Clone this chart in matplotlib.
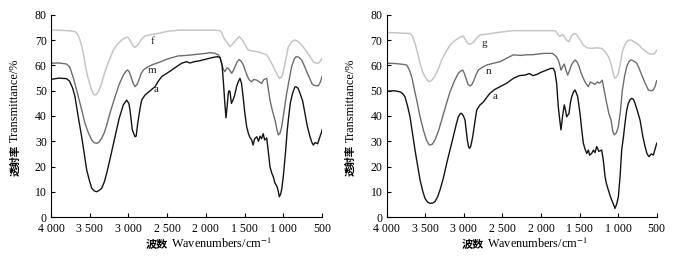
import matplotlib
matplotlib.use('Agg')
import matplotlib.pyplot as plt

# ── Fonts ──────────────────────────────────────────────────────────────────
plt.rcParams['font.family'] = ['Liberation Serif', 'Noto Sans CJK SC', 'DejaVu Sans']
plt.rcParams['mathtext.fontset'] = 'stix'

# ── Data: left panel (curves f, m, a) ──────────────────────────────────────
left_a_wn = [4000, 3900, 3800, 3760, 3720, 3690, 3650, 3604, 3570, 3539, 3500, 3474, 3440,
             3410, 3380, 3345, 3310, 3281, 3230, 3173, 3120, 3066, 3023, 2995, 2980, 2950,
             2915, 2900, 2880, 2850, 2829, 2786, 2720, 2657, 2610, 2570, 2500, 2441, 2380,
             2312, 2250, 2205, 2150, 2076, 2000, 1908, 1850, 1817, 1790, 1770, 1755, 1740,
             1725, 1710, 1700, 1688, 1670, 1650, 1630, 1600, 1575, 1559, 1540, 1520, 1500,
             1473, 1450, 1430, 1408, 1390, 1370, 1343, 1320, 1300, 1280, 1260, 1240, 1214,
             1190, 1172, 1150, 1130, 1107, 1080, 1064, 1051, 1035, 1020, 1000, 970, 950, 935,
             910, 880, 850, 836, 810, 784, 750, 720, 690, 655, 630, 612, 590, 556, 530, 504, 500]
left_a_t = [54.5, 55, 54.8, 53.8, 51, 47.6, 40, 31.8, 25, 18.6, 14, 11.4, 10.3,
            10, 10.5, 11.4, 14, 17.3, 24, 31.8, 39, 44.4, 46.3, 45, 42.4, 34.5,
            31.8, 32, 37.1, 43, 46.3, 48.3, 50, 51.6, 54, 55.6, 57, 58.2, 59.5,
            60.9, 61.5, 61, 61.5, 61.9, 62.5, 63.2, 63.5, 63.2, 60, 52, 45, 39.3,
            44, 49, 50, 49.6, 45, 46.3, 48, 52, 54, 54.9, 53, 48, 42,
            35.8, 33, 31.5, 30.5, 28.5, 31, 31.8, 30, 32, 31, 33, 30.5, 31.3,
            25, 19.9, 17.5, 16, 13.4, 12, 10, 8.0, 9, 11, 16, 26, 34, 38.4,
            45, 49, 51.5, 51.6, 51, 49, 46, 41, 36, 31.8, 29.5, 28.5, 29.5, 29, 31.5, 33.8, 34.5]

left_m_wn = [4000, 3900, 3800, 3760, 3716, 3680, 3647, 3600, 3561, 3520, 3474, 3440, 3410,
             3380, 3345, 3310, 3281, 3230, 3173, 3120, 3066, 3030, 3010, 2990, 2967, 2940,
             2915, 2890, 2872, 2840, 2808, 2760, 2700, 2600, 2528, 2450, 2356, 2250, 2183,
             2100, 2000, 1947, 1880, 1839, 1815, 1796, 1775, 1753, 1730, 1710, 1690, 1666,
             1645, 1624, 1595, 1568, 1540, 1516, 1485, 1452, 1430, 1408, 1380, 1343, 1310,
             1279, 1250, 1214, 1195, 1172, 1140, 1107, 1085, 1064, 1045, 1020, 990, 956, 920,
             892, 860, 836, 800, 763, 730, 698, 660, 630, 612, 580, 547, 520, 500]
left_m_t = [60.9, 61, 60.6, 59.5, 55.6, 51.5, 47.6, 42, 37.1, 33.5, 30.5, 29.4, 29.2,
            29.6, 31.2, 33.5, 36.4, 42, 47.6, 52.5, 56.2, 57.8, 58.2, 57.5, 55.6, 53,
            51.6, 52.5, 53.6, 56.5, 58.2, 59.3, 60.2, 61.3, 62.2, 63, 63.8, 64, 64.2,
            64.5, 64.8, 65.1, 64.8, 64.2, 63, 60.9, 58.5, 57.6, 59, 58.9, 58, 56.9,
            58, 59.5, 61.5, 62.4, 61.5, 60.2, 57.5, 54.9, 54, 53.6, 54.5, 54.2, 53.5,
            52.9, 54.5, 54.9, 51, 46.3, 42, 38.4, 35, 32.5, 33, 35.8, 42, 49, 55,
            59.5, 62.5, 63.5, 63.3, 62.2, 60, 57.6, 55, 52.8, 52.3, 52, 52, 53.5, 55.6]

left_f_wn = [4000, 3900, 3800, 3720, 3690, 3660, 3625, 3590, 3561, 3530, 3496, 3460, 3441,
             3415, 3389, 3350, 3303, 3250, 3195, 3140, 3087, 3040, 3010, 2985, 2958, 2935,
             2915, 2890, 2864, 2830, 2786, 2700, 2614, 2500, 2356, 2200, 2000, 1900, 1817,
             1795, 1775, 1750, 1731, 1710, 1688, 1665, 1646, 1600, 1568, 1540, 1516, 1480,
             1452, 1400, 1343, 1280, 1214, 1170, 1128, 1090, 1051, 1020, 999, 970, 935, 890,
             849, 810, 784, 740, 698, 650, 612, 580, 547, 520, 500]
left_f_t = [74, 74, 73.8, 73.6, 73.4, 72.5, 70.1, 66, 60.9, 56, 52.3, 49, 48.3,
            48.6, 49.6, 52.5, 57.6, 62, 66.1, 68.5, 70.1, 71, 71.2, 70.3, 68.8, 67.5,
            67.2, 67.8, 68.8, 70.5, 71.7, 72.3, 72.7, 73.5, 74, 74, 74, 74, 73.8,
            73, 71.4, 70, 69.4, 68.5, 67.4, 68, 68.8, 70.5, 71.4, 70.5, 69.4, 67.5,
            66.1, 65.8, 65.5, 65, 64.2, 62, 59.5, 57, 54.9, 55.5, 57.6, 62, 67.4, 69.5,
            70.1, 69.5, 68.8, 67.2, 65.5, 63.2, 61.5, 61, 60.9, 61.8, 62.8]

# ── Data: right panel (curves g, n, a) ─────────────────────────────────────
right_a_wn = [4000, 3900, 3828, 3790, 3763, 3730, 3698, 3665, 3633, 3600, 3568, 3535, 3504,
              3470, 3439, 3405, 3374, 3340, 3309, 3265, 3222, 3180, 3137, 3100, 3072, 3045,
              3028, 3005, 2985, 2970, 2955, 2940, 2929, 2910, 2885, 2860, 2833, 2790, 2748,
              2700, 2661, 2600, 2531, 2444, 2359, 2280, 2207, 2150, 2103, 2050, 2000, 1926,
              1880, 1840, 1820, 1797, 1776, 1755, 1741, 1720, 1698, 1680, 1667, 1637, 1620,
              1602, 1580, 1559, 1540, 1524, 1494, 1470, 1451, 1430, 1407, 1385, 1370, 1343,
              1320, 1300, 1278, 1250, 1213, 1190, 1170, 1150, 1127, 1105, 1083, 1060, 1041,
              1020, 997, 975, 954, 930, 911, 890, 868, 845, 824, 800, 781, 750, 716, 680, 651,
              625, 600, 570, 544, 520, 500]
right_a_t = [49.8, 50, 49.6, 48.8, 47.6, 44, 39.7, 33, 26.5, 20.5, 14.7, 10.5, 7.4,
             5.9, 5.4, 5.5, 6.1, 8, 10.7, 15.5, 21.3, 26.5, 31.8, 36.5, 39.7, 41,
             41, 40, 38.4, 34.5, 30.5, 28, 27.2, 28, 31.8, 37, 42.4, 44.4, 45.5,
             47.5, 49, 50.5, 51.6, 53, 54.9, 56, 56.2, 56.8, 56, 56.5, 57.3, 58.2,
             58.8, 58.9, 57.5, 52.9, 43.7, 38, 34.5, 40, 44.4, 42, 39.7, 41, 45,
             47.6, 49.5, 50.3, 49, 47.6, 41, 34, 29.2, 27, 25.2, 26.5, 24.5, 25.2,
             26.5, 25.5, 27.9, 26, 26.5, 22, 16, 13, 10.7, 8.5, 6.7, 5, 3.4,
             5, 8.0, 16, 26.5, 32, 37.1, 42, 45, 46.5, 47, 46.5, 45, 42, 38.4, 32, 27.9,
             25, 23.9, 25, 24.5, 27, 29.2]

right_n_wn = [4000, 3900, 3800, 3741, 3710, 3676, 3645, 3611, 3570, 3525, 3485, 3448, 3410,
              3374, 3330, 3287, 3230, 3179, 3120, 3072, 3040, 3015, 2995, 2972, 2945, 2920,
              2895, 2868, 2840, 2812, 2760, 2704, 2600, 2531, 2450, 2359, 2250, 2207, 2100,
              2000, 1948, 1850, 1800, 1776, 1755, 1741, 1720, 1698, 1675, 1654, 1630, 1610,
              1580, 1559, 1535, 1510, 1480, 1451, 1420, 1387, 1360, 1330, 1300, 1270, 1240,
              1205, 1180, 1148, 1120, 1092, 1070, 1050, 1020, 997, 970, 945, 915, 889, 860,
              833, 800, 759, 730, 694, 650, 608, 575, 544, 520, 500]
right_n_t = [60.9, 60.8, 60.5, 60.2, 58.5, 55.6, 51, 46.3, 40, 34.5, 30.5, 28.5, 28.8,
             30.5, 34, 38.4, 44.5, 49.6, 54, 56.9, 57.8, 58.2, 57, 54.9, 52.5, 51.9,
             52.5, 54.2, 56.5, 58.2, 59.3, 60.2, 61, 61.5, 62.8, 64.2, 64, 64.2, 64.3,
             64.7, 64.8, 64.8, 63.5, 62.2, 60, 58.2, 59.5, 60.6, 58, 56.2, 58, 59.8,
             61.5, 62.2, 61.5, 60, 57, 54.9, 53, 51.6, 53.5, 53, 52.5, 53.5, 53,
             54.2, 50, 45, 41, 38.4, 34, 32.5, 33.5, 35.8, 42, 50.3, 56, 59.5, 61.5,
             62.2, 61.8, 60.9, 59, 56.2, 53, 50.3, 50, 50.3, 51.8, 54]

right_g_wn = [4000, 3900, 3800, 3698, 3665, 3633, 3600, 3568, 3535, 3504, 3475, 3448, 3420,
              3387, 3340, 3287, 3230, 3179, 3120, 3072, 3030, 3007, 2985, 2963, 2940, 2920,
              2895, 2868, 2830, 2790, 2680, 2574, 2450, 2359, 2200, 2000, 1818, 1795, 1776,
              1755, 1735, 1715, 1690, 1665, 1637, 1610, 1590, 1559, 1535, 1510, 1480, 1451,
              1400, 1343, 1280, 1213, 1170, 1127, 1100, 1083, 1060, 1041, 1020, 997, 970, 945,
              915, 889, 860, 833, 800, 759, 720, 694, 650, 608, 575, 544, 520, 500]
right_g_t = [73, 73, 72.8, 72.7, 71.5, 68.8, 65, 60.9, 57.5, 55.6, 54.2, 53.6, 54,
             55.2, 58, 62.2, 65.5, 68.1, 69.8, 70.8, 71.5, 71.7, 70.5, 69.4, 68.6, 68.5,
             68.8, 69.4, 71, 72.1, 72.5, 73, 73.5, 73.8, 73.8, 73.8, 73.8, 73, 72.1,
             71.5, 72, 72.2, 71, 70, 69.4, 71.5, 72.2, 72.7, 72, 71, 69.5, 68.1,
             67, 66.8, 67, 66.8, 65.5, 63.5, 61.5, 59.5, 56.5, 54.9, 55.5, 56.9, 61, 65.5,
             68, 69.4, 70, 70.1, 69.5, 68.8, 67.8, 66.8, 65.8, 64.8, 64.5, 64.5, 65, 66.1]

# curve labels: (text, wavenumber, transmittance)
left_labels = [('f', 2690, 69.5), ('m', 2700, 58.0), ('a', 2640, 50.5)]
right_labels = [('g', 2735, 68.8), ('n', 2680, 57.8), ('a', 2595, 47.8)]

x_ticks = [4000, 3500, 3000, 2500, 2000, 1500, 1000, 500]
x_ticklabels = ['4 000', '3 500', '3 000', '2 500', '2 000', '1 500', '1 000', '500']
y_ticks = [0, 10, 20, 30, 40, 50, 60, 70, 80]

DARK, MID, LIGHT = '#141414', '#6e6e6e', '#c6c6c6'
W, H = 681, 259


# ── Plot ───────────────────────────────────────────────────────────────────
def draw_panel(ax, curves, labels):
    for (wn, t), color, lw in zip(curves, [LIGHT, MID, DARK], [1.1, 1.0, 1.0]):
        ax.plot(wn, t, color=color, linewidth=lw)
    for text, x, y in labels:
        ax.text(x, y, text, fontsize=8, ha='center', va='center', color='#222222')

    ax.set_xlim(4000, 500)
    ax.set_ylim(0, 80)
    ax.set_xticks(x_ticks)
    ax.set_xticklabels(x_ticklabels)
    ax.set_yticks(y_ticks)
    ax.tick_params(direction='in', length=3, width=0.8, labelsize=8.5)
    ax.tick_params(axis='x', pad=4.5)
    ax.tick_params(axis='y', pad=3)
    for side in ['top', 'right']:
        ax.spines[side].set_visible(False)
    for side in ['left', 'bottom']:
        ax.spines[side].set_linewidth(0.8)


def draw_labels(x_px, xlab_px):
    # CJK part and Latin part drawn as separate texts so each gets its own font
    cjk = fig.text(x_px / W, (H - 176) / H, '透射率', rotation=90, ha='center', va='bottom',
                   fontsize=7.5, family='Noto Sans CJK SC', fontweight='bold')
    bb = cjk.get_window_extent(renderer=fig.canvas.get_renderer())
    fig.text(x_px / W, (bb.y1 + 3) / H, 'Transmittance/%', rotation=90, ha='center',
             va='bottom', fontsize=8.8, family='Liberation Serif')
    fig.text(xlab_px / W, (H - 244) / H, '波数', ha='right', va='center',
             fontsize=8, family='Noto Sans CJK SC', fontweight='bold')
    fig.text((xlab_px + 3) / W, (H - 244) / H, 'Wavenumbers/cm$^{-1}$', ha='left',
             va='center', fontsize=8.8, family='Liberation Serif')


fig = plt.figure(figsize=(W / 100, H / 100), dpi=100)
ax_l = fig.add_axes([51 / W, 42 / H, 271 / W, 202 / H])
ax_r = fig.add_axes([386.7 / W, 42 / H, 270 / W, 202 / H])

draw_panel(ax_l, [(left_f_wn, left_f_t), (left_m_wn, left_m_t), (left_a_wn, left_a_t)],
           left_labels)
draw_panel(ax_r, [(right_g_wn, right_g_t), (right_n_wn, right_n_t), (right_a_wn, right_a_t)],
           right_labels)
draw_labels(15, 168)
draw_labels(350.7, 484)

fig.savefig('out.png', dpi=100)
